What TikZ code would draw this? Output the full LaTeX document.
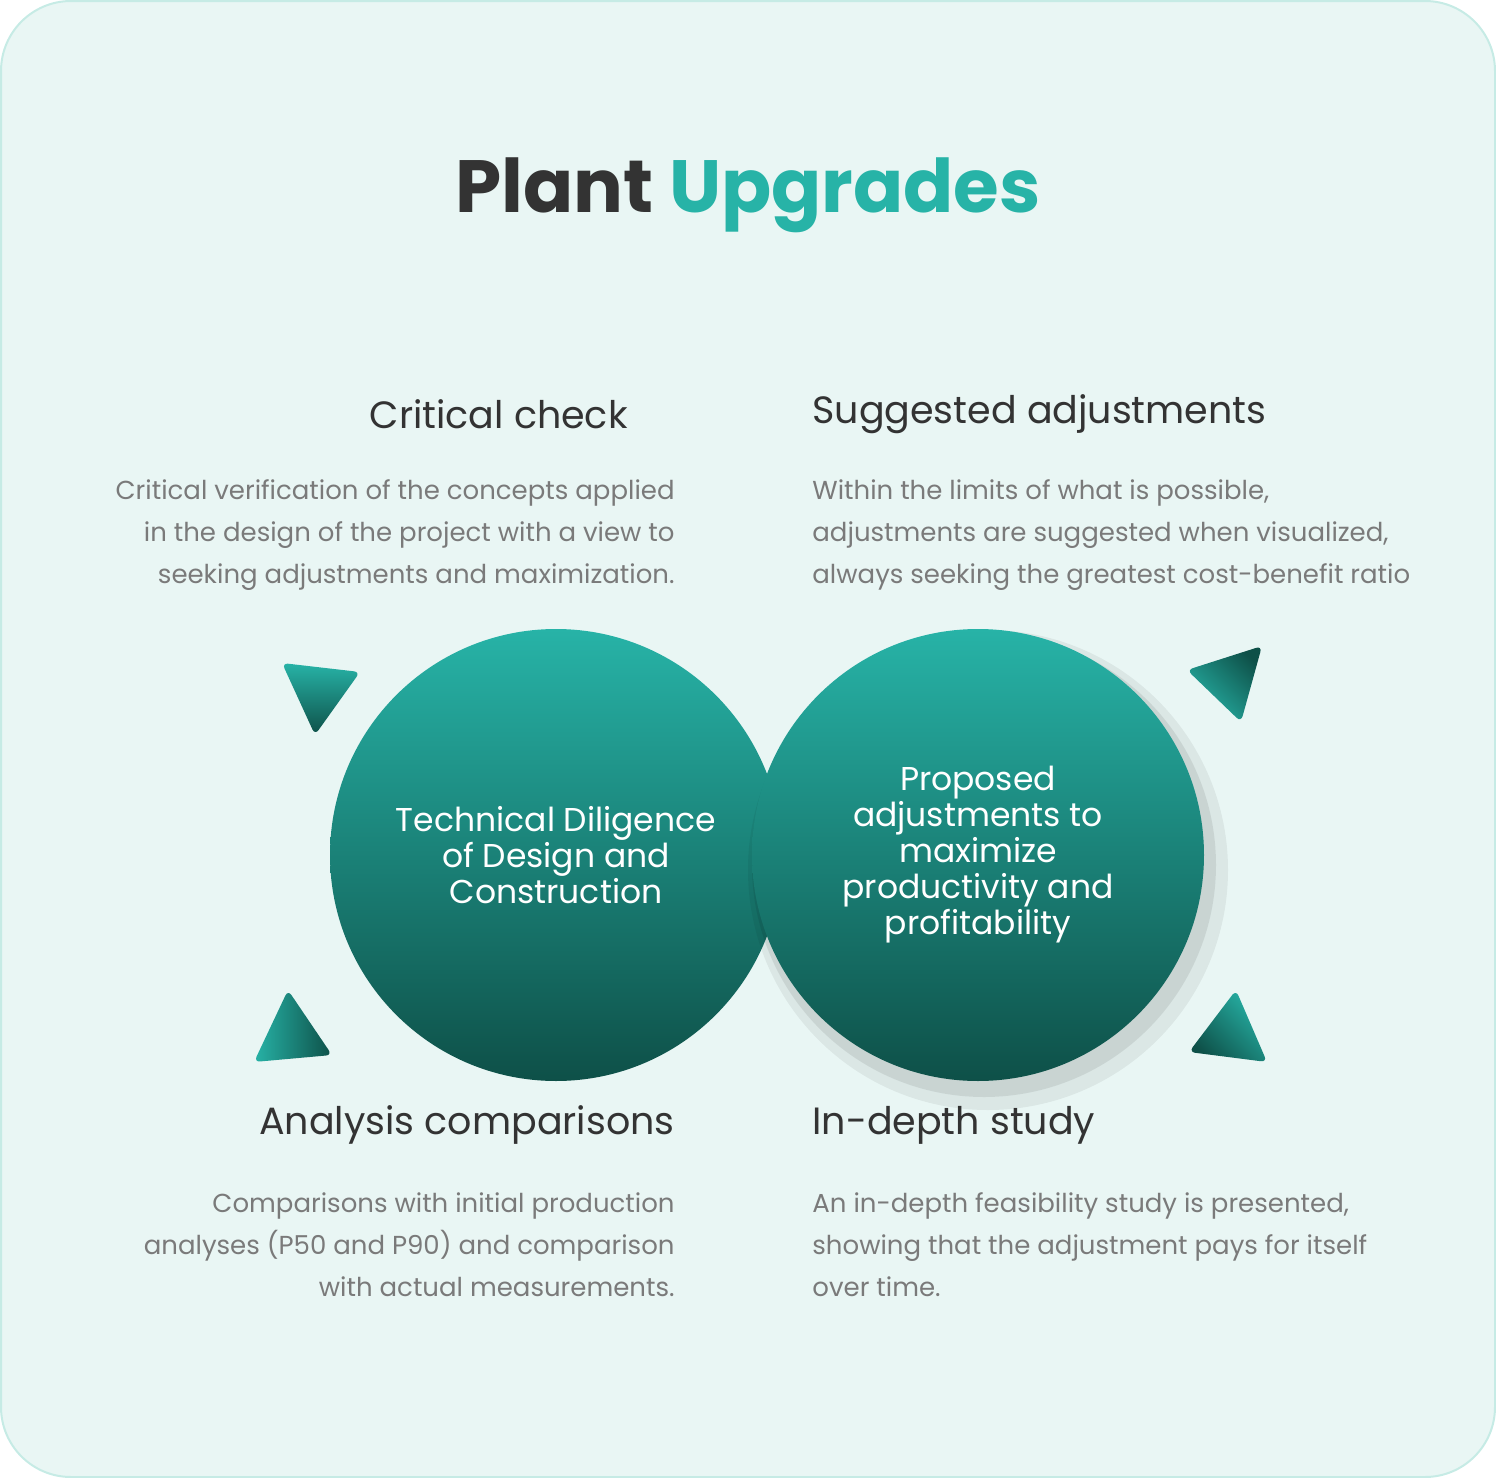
\documentclass[tikz,border=0pt]{standalone}
\usepackage{fontspec}
\setmainfont{Poppins}
\begin{document}
\definecolor{bg}{HTML}{E9F6F4}
\definecolor{bgline}{HTML}{C6EBE5}
\definecolor{tealA}{HTML}{27B3A7}
\definecolor{tealB}{HTML}{0E5048}
\definecolor{headc}{HTML}{333333}
\definecolor{bodyc}{HTML}{7A7A7A}
\begin{tikzpicture}[x=0.5pt,y=-0.5pt,
  head/.style={font=\fontsize{19}{22}\selectfont\mdseries, text=headc, inner sep=0},
  body/.style={font=\fontsize{13}{21}\selectfont, text=bodyc, inner sep=0},
  circ/.style={circle, minimum size=226pt, inner sep=0, top color=tealA, bottom color=tealB, text=white, align=center, font=\fontsize{16.5}{18}\selectfont\mdseries},
  tri/.style={rounded corners=3pt, left color=tealA, right color=tealB}]
\useasboundingbox (0,0) rectangle (1496,1478);
\draw[bgline, fill=bg, line width=1pt, rounded corners=35pt] (1,1) rectangle (1495,1477);
\node[font=\fontsize{37}{40}\selectfont\bfseries, inner sep=0] (title) at (748,195) {\textcolor{headc}{Plant} \textcolor{tealA}{Upgrades}};
\node[head, anchor=east] (h1) at (628,414) {Critical check};
\node[head, anchor=west] (h2) at (812,414) {Suggested adjustments};
\node[head, anchor=east] (h3) at (675,1125) {Analysis comparisons};
\node[head, anchor=west] (h4) at (812,1125) {In-depth study};
\node[body, anchor=east, align=right] (b1) at (675,535) {Critical verification of the concepts applied\\in the design of the project with a view to\\seeking adjustments and maximization.};
\node[body, anchor=west, align=left] (b2) at (812,535) {Within the limits of what is possible,\\adjustments are suggested when visualized,\\always seeking the greatest cost-benefit ratio};
\node[body, anchor=east, align=right] (b3) at (675,1245) {Comparisons with initial production\\analyses (P50 and P90) and comparison\\with actual measurements.};
\node[body, anchor=west, align=left] (b4) at (812,1245) {An in-depth feasibility study is presented,\\showing that the adjustment pays for itself\\over time.};
\node[circ] (c1) at (556,855) {Technical Diligence\\of Design and\\Construction};
\fill[black, opacity=0.08] (984,865) circle (232);
\fill[black, opacity=0.06] (988,870) circle (240);
\node[circ] (c2) at (978,855) {Proposed\\adjustments to\\maximize\\productivity and\\profitability};
\shade[tri, left color=tealA, right color=tealB, shading angle=0] (282,663) -- (360,672) -- (315,735) -- cycle;
\shade[tri, shading angle=135] (1187,670) -- (1262,646) -- (1241,722) -- cycle;
\shade[tri, shading angle=45, left color=tealA, right color=tealB] (288,990) -- (332,1055) -- (254,1062) -- cycle;
\shade[tri, shading angle=-45] (1236,990) -- (1267,1062) -- (1189,1052) -- cycle;
\end{tikzpicture}
\end{document}
